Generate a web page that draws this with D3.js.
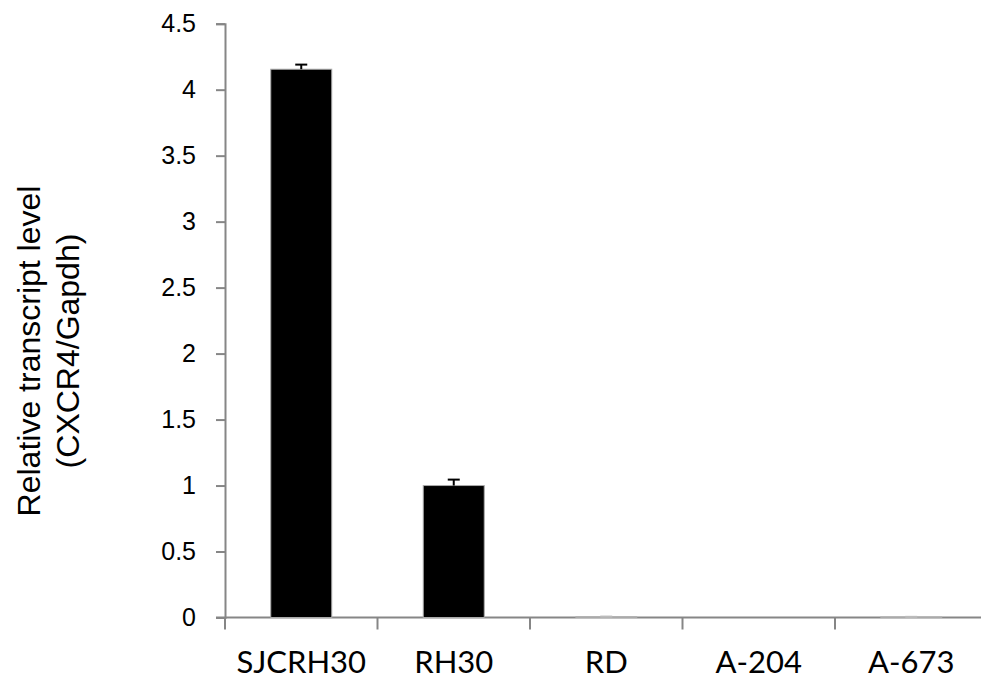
<!DOCTYPE html>
<html><head><meta charset="utf-8">
<script src="https://cdnjs.cloudflare.com/ajax/libs/d3/7.8.5/d3.min.js"></script>
<style>body{margin:0;background:#fff}svg{display:block}</style>
</head><body>
<script>
const categories = ["SJCRH30", "RH30", "RD", "A-204", "A-673"];
const values = [4.155, 1.0, 0.004, 0, 0.003];
const errors = [0.035, 0.045, 0.003, 0, 0.002];
const yTicks = [0, 0.5, 1, 1.5, 2, 2.5, 3, 3.5, 4, 4.5];
const yTitle = ["Relative transcript level", "(CXCR4/Gapdh)"];

const W = 981, H = 681;
const svg = d3.select("body").append("svg").attr("width", W).attr("height", H);
const axisColor = "#868686";

const y = d3.scaleLinear().domain([0, 4.5]).range([617.5, 23.7]);
const x = d3.scaleBand().domain(categories).range([225, 987.5]).paddingInner(0.6).paddingOuter(0.3);

// Y axis
const yAxis = svg.append("g").attr("transform", "translate(225,0)")
  .call(d3.axisLeft(y).tickValues(yTicks).tickSize(9).tickPadding(20).tickFormat(d => String(d)));
yAxis.select(".domain").attr("stroke", axisColor).attr("stroke-width", 2);
yAxis.selectAll(".tick line").attr("stroke", axisColor).attr("stroke-width", 2);
yAxis.selectAll(".tick text").attr("font-family", "'Liberation Sans', Arial, sans-serif")
  .attr("font-size", 25).attr("fill", "#000");

// X axis baseline
svg.append("line").attr("x1", 216).attr("x2", 981).attr("y1", y(0)).attr("y2", y(0))
  .attr("stroke", axisColor).attr("stroke-width", 2);
// X ticks at category boundaries
const bounds = categories.map((c, i) => 225 + i * x.step()).concat([225 + categories.length * x.step()]);
svg.selectAll(".xtick").data(bounds).enter().append("line")
  .attr("x1", d => d).attr("x2", d => d).attr("y1", y(0)).attr("y2", y(0) + 12)
  .attr("stroke", axisColor).attr("stroke-width", 2);

// X labels
svg.selectAll(".xlab").data(categories).enter().append("text")
  .attr("x", d => x(d) + x.bandwidth() / 2).attr("y", 673)
  .attr("text-anchor", "middle").attr("font-family", "Lato, 'Open Sans', sans-serif")
  .attr("font-size", 31).attr("fill", "#000").text(d => d);

// Bars
svg.selectAll(".bar").data(categories).enter().append("rect")
  .attr("x", d => x(d)).attr("width", x.bandwidth())
  .attr("y", (d, i) => y(values[i])).attr("height", (d, i) => y(0) - y(values[i]))
  .attr("fill", "#000").attr("stroke", "#aaa").attr("stroke-width", 1);

// Error bars
const eb = svg.selectAll(".err").data(categories).enter().append("g");
eb.append("line")
  .attr("x1", d => x(d) + x.bandwidth() / 2).attr("x2", d => x(d) + x.bandwidth() / 2)
  .attr("y1", (d, i) => y(values[i])).attr("y2", (d, i) => y(values[i] + errors[i]))
  .attr("stroke", (d, i) => values[i] > 0.5 ? "#000" : "#bbb").attr("stroke-width", 2);
eb.append("line")
  .attr("x1", d => x(d) + x.bandwidth() / 2 - 6).attr("x2", d => x(d) + x.bandwidth() / 2 + 6)
  .attr("y1", (d, i) => y(values[i] + errors[i])).attr("y2", (d, i) => y(values[i] + errors[i]))
  .attr("stroke", (d, i) => values[i] > 0.5 ? "#000" : "#bbb").attr("stroke-width", (d, i) => errors[i] > 0 ? 2 : 0);

// Y title
const t = svg.append("text").attr("transform", "translate(40,351) rotate(-90)")
  .attr("text-anchor", "middle").attr("font-family", "'Liberation Sans', Arial, sans-serif")
  .attr("font-size", 32).attr("fill", "#000");
t.append("tspan").attr("x", 0).attr("y", 0).text(yTitle[0]);
t.append("tspan").attr("x", 0).attr("y", 39).text(yTitle[1]);
</script>
</body></html>
